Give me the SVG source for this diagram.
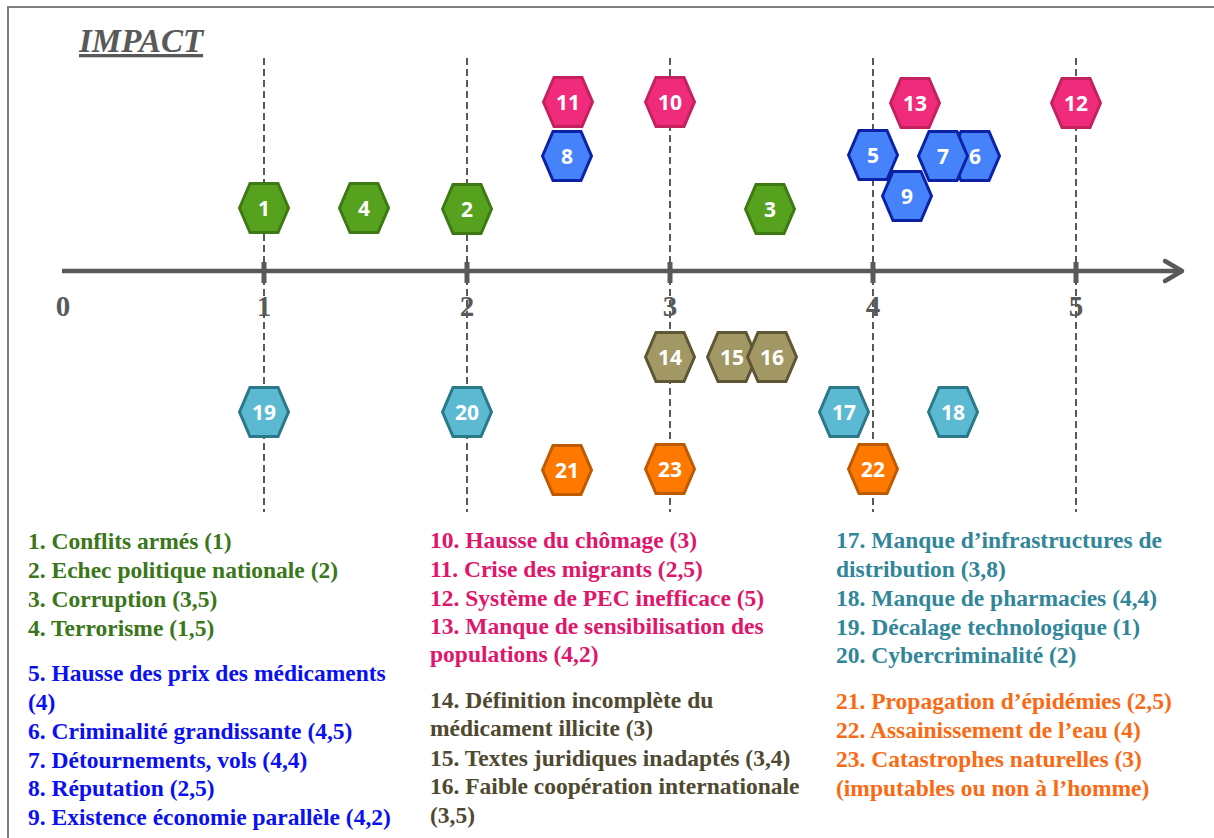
<svg xmlns="http://www.w3.org/2000/svg" width="1214" height="838" viewBox="0 0 1214 838">
<defs>
<style>
.frame{fill:none;stroke:#7f7f7f;stroke-width:2}
.grid{stroke:#595959;stroke-width:2;stroke-dasharray:7 4;fill:none}
.axis{stroke:#595959;stroke-width:4.5;fill:none}
.tick{stroke:#595959;stroke-width:5}
.axl{font-family:"Liberation Serif",serif;font-weight:bold;font-size:29px;fill:#595959;text-anchor:middle}
.title{font-family:"Liberation Serif",serif;font-weight:bold;font-style:italic;font-size:33px;fill:#595959;text-decoration:underline}
.hx text{font-family:"Open Sans","Liberation Sans",sans-serif;font-weight:bold;font-size:21px;fill:#fff;text-anchor:middle;dominant-baseline:central}
.hx polygon{stroke-width:3}
.g polygon{fill:#56A21E;stroke:#3D7A14}
.p polygon{fill:#F02B7C;stroke:#C5215F}
.b polygon{fill:#4683FA;stroke:#0B22A6}
.k polygon{fill:#A29866;stroke:#5E5634}
.c polygon{fill:#5BB9D1;stroke:#2B7889}
.o polygon{fill:#FF7800;stroke:#BE5A00}
.lg{font-family:"Liberation Serif",serif;font-weight:bold;font-size:23.5px}
.tg{fill:#3A761A}.tb{fill:#0A10F0}.tp{fill:#E0166C}.tk{fill:#4E4930}.tc{fill:#31869A}.to{fill:#FA6A14}
</style>
</defs>
<rect width="1214" height="838" fill="#fff"/>
<path class="frame" d="M8,838 V7 H1214"/>
<text class="title" x="79" y="52">IMPACT</text>
<g id="connectors">
<line class="grid" x1="264" y1="58" x2="264" y2="512"/>
<line class="grid" x1="467" y1="58" x2="467" y2="512"/>
<line class="grid" x1="670" y1="58" x2="670" y2="512"/>
<line class="grid" x1="873" y1="58" x2="873" y2="512"/>
<line class="grid" x1="1076" y1="58" x2="1076" y2="512"/>
<line class="axis" x1="62" y1="271" x2="1182" y2="271"/>
<path class="axis" d="M1165,261 L1182,271 L1165,281" stroke-linecap="round" stroke-linejoin="round"/>
<line class="tick" x1="264" y1="262" x2="264" y2="283"/>
<line class="tick" x1="467" y1="262" x2="467" y2="283"/>
<line class="tick" x1="670" y1="262" x2="670" y2="283"/>
<line class="tick" x1="873" y1="262" x2="873" y2="283"/>
<line class="tick" x1="1076" y1="262" x2="1076" y2="283"/>
</g>
<g id="axis-labels">
<text class="axl" x="63" y="316">0</text>
<text class="axl" x="264" y="316">1</text>
<text class="axl" x="467" y="316">2</text>
<text class="axl" x="670" y="316">3</text>
<text class="axl" x="873" y="316">4</text>
<text class="axl" x="1076" y="316">5</text>
</g>
<g id="n1" class="hx g" transform="translate(264,208)"><polygon points="-24.5,0 -14,-24.5 14,-24.5 24.5,0 14,24.5 -14,24.5"/><text>1</text></g>
<g id="n4" class="hx g" transform="translate(364,208)"><polygon points="-24.5,0 -14,-24.5 14,-24.5 24.5,0 14,24.5 -14,24.5"/><text>4</text></g>
<g id="n2" class="hx g" transform="translate(467,209)"><polygon points="-24.5,0 -14,-24.5 14,-24.5 24.5,0 14,24.5 -14,24.5"/><text>2</text></g>
<g id="n3" class="hx g" transform="translate(770,209)"><polygon points="-24.5,0 -14,-24.5 14,-24.5 24.5,0 14,24.5 -14,24.5"/><text>3</text></g>
<g id="n11" class="hx p" transform="translate(568,102)"><polygon points="-24.5,0 -14,-24.5 14,-24.5 24.5,0 14,24.5 -14,24.5"/><text>11</text></g>
<g id="n10" class="hx p" transform="translate(670,102)"><polygon points="-24.5,0 -14,-24.5 14,-24.5 24.5,0 14,24.5 -14,24.5"/><text>10</text></g>
<g id="n13" class="hx p" transform="translate(915,103)"><polygon points="-24.5,0 -14,-24.5 14,-24.5 24.5,0 14,24.5 -14,24.5"/><text>13</text></g>
<g id="n12" class="hx p" transform="translate(1076,103)"><polygon points="-24.5,0 -14,-24.5 14,-24.5 24.5,0 14,24.5 -14,24.5"/><text>12</text></g>
<g id="n8" class="hx b" transform="translate(567,156)"><polygon points="-24.5,0 -14,-24.5 14,-24.5 24.5,0 14,24.5 -14,24.5"/><text>8</text></g>
<g id="n5" class="hx b" transform="translate(873,155)"><polygon points="-24.5,0 -14,-24.5 14,-24.5 24.5,0 14,24.5 -14,24.5"/><text>5</text></g>
<g id="n6" class="hx b" transform="translate(975,156)"><polygon points="-24.5,0 -14,-24.5 14,-24.5 24.5,0 14,24.5 -14,24.5"/><text>6</text></g>
<g id="n7" class="hx b" transform="translate(943,156)"><polygon points="-24.5,0 -14,-24.5 14,-24.5 24.5,0 14,24.5 -14,24.5"/><text>7</text></g>
<g id="n9" class="hx b" transform="translate(907,196)"><polygon points="-24.5,0 -14,-24.5 14,-24.5 24.5,0 14,24.5 -14,24.5"/><text>9</text></g>
<g id="n14" class="hx k" transform="translate(670,357)"><polygon points="-24.5,0 -14,-24.5 14,-24.5 24.5,0 14,24.5 -14,24.5"/><text>14</text></g>
<g id="n15" class="hx k" transform="translate(732,357)"><polygon points="-24.5,0 -14,-24.5 14,-24.5 24.5,0 14,24.5 -14,24.5"/><text>15</text></g>
<g id="n16" class="hx k" transform="translate(772,357)"><polygon points="-24.5,0 -14,-24.5 14,-24.5 24.5,0 14,24.5 -14,24.5"/><text>16</text></g>
<g id="n19" class="hx c" transform="translate(264,412)"><polygon points="-24.5,0 -14,-24.5 14,-24.5 24.5,0 14,24.5 -14,24.5"/><text>19</text></g>
<g id="n20" class="hx c" transform="translate(467,412)"><polygon points="-24.5,0 -14,-24.5 14,-24.5 24.5,0 14,24.5 -14,24.5"/><text>20</text></g>
<g id="n17" class="hx c" transform="translate(844,412)"><polygon points="-24.5,0 -14,-24.5 14,-24.5 24.5,0 14,24.5 -14,24.5"/><text>17</text></g>
<g id="n18" class="hx c" transform="translate(953,412)"><polygon points="-24.5,0 -14,-24.5 14,-24.5 24.5,0 14,24.5 -14,24.5"/><text>18</text></g>
<g id="n21" class="hx o" transform="translate(567,470)"><polygon points="-24.5,0 -14,-24.5 14,-24.5 24.5,0 14,24.5 -14,24.5"/><text>21</text></g>
<g id="n23" class="hx o" transform="translate(670,469)"><polygon points="-24.5,0 -14,-24.5 14,-24.5 24.5,0 14,24.5 -14,24.5"/><text>23</text></g>
<g id="n22" class="hx o" transform="translate(873,469)"><polygon points="-24.5,0 -14,-24.5 14,-24.5 24.5,0 14,24.5 -14,24.5"/><text>22</text></g>
<g id="legend" class="lg">
<text class="tg" x="28" y="549">1. Conflits armés (1)</text>
<text class="tg" x="28" y="578">2. Echec politique nationale (2)</text>
<text class="tg" x="28" y="607">3. Corruption (3,5)</text>
<text class="tg" x="28" y="636">4. Terrorisme (1,5)</text>
<text class="tb" x="28" y="681">5. Hausse des prix des médicaments</text>
<text class="tb" x="28" y="710">(4)</text>
<text class="tb" x="28" y="739">6. Criminalité grandissante (4,5)</text>
<text class="tb" x="28" y="768">7. Détournements, vols (4,4)</text>
<text class="tb" x="28" y="796">8. Réputation (2,5)</text>
<text class="tb" x="28" y="825">9. Existence économie parallèle (4,2)</text>
<text class="tp" x="430" y="548">10. Hausse du chômage (3)</text>
<text class="tp" x="430" y="577">11. Crise des migrants (2,5)</text>
<text class="tp" x="430" y="606">12. Système de PEC inefficace (5)</text>
<text class="tp" x="430" y="634">13. Manque de sensibilisation des</text>
<text class="tp" x="430" y="662">populations (4,2)</text>
<text class="tk" x="430" y="708">14. Définition incomplète du</text>
<text class="tk" x="430" y="736">médicament illicite (3)</text>
<text class="tk" x="430" y="766">15. Textes juridiques inadaptés (3,4)</text>
<text class="tk" x="430" y="794">16. Faible coopération internationale</text>
<text class="tk" x="430" y="823">(3,5)</text>
<text class="tc" x="836" y="548">17. Manque d’infrastructures de</text>
<text class="tc" x="836" y="577">distribution (3,8)</text>
<text class="tc" x="836" y="606">18. Manque de pharmacies (4,4)</text>
<text class="tc" x="836" y="635">19. Décalage technologique (1)</text>
<text class="tc" x="836" y="663">20. Cybercriminalité (2)</text>
<text class="to" x="836" y="709">21. Propagation d’épidémies (2,5)</text>
<text class="to" x="836" y="738">22. Assainissement de l’eau (4)</text>
<text class="to" x="836" y="767">23. Catastrophes naturelles (3)</text>
<text class="to" x="836" y="796">(imputables ou non à l’homme)</text>
</g>
</svg>
